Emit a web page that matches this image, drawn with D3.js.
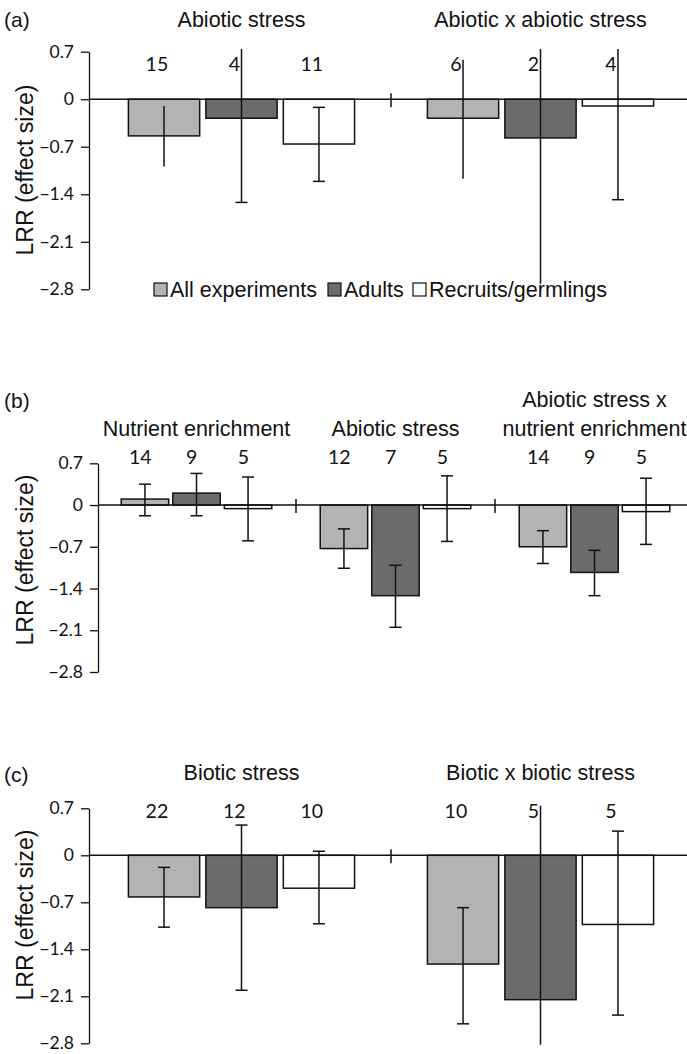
<!DOCTYPE html>
<html>
<head>
<meta charset="utf-8">
<script src="https://cdn.jsdelivr.net/npm/d3@7"></script>
<style>
  body { margin: 0; background: white; }
  svg { display: block; }
</style>
</head>
<body>
<script>
// series and ticks shared by all three panels
const series = ["All experiments", "Adults", "Recruits/germlings"]
const yTicks = [0.7, 0, -0.7, -1.4, -2.1, -2.8]

// (a)
const groupsA = ["Abiotic stress", "Abiotic x abiotic stress"]
const meanA  = [[-0.54, -0.28, -0.66], [-0.28, -0.57, -0.10]]
const lowA   = [[-0.99, -1.52, -1.21], [-1.17, -2.72, -1.48]]
const highA  = [[-0.10,  0.74, -0.12], [ 0.58,  0.74,  0.74]]
const nA     = [[15, 4, 11], [6, 2, 4]]

// (b)
const groupsB = ["Nutrient enrichment", "Abiotic stress", "Abiotic stress x|nutrient enrichment"]
const meanB  = [[0.10, 0.20, -0.06], [-0.73, -1.52, -0.06], [-0.70, -1.13, -0.11]]
const lowB   = [[-0.18, -0.18, -0.60], [-1.06, -2.05, -0.61], [-0.98, -1.52, -0.66]]
const highB  = [[0.35, 0.53, 0.47], [-0.40, -1.01, 0.49], [-0.43, -0.76, 0.45]]
const nB     = [[14, 9, 5], [12, 7, 5], [14, 9, 5]]

// (c)
const groupsC = ["Biotic stress", "Biotic x biotic stress"]
const meanC  = [[-0.62, -0.78, -0.49], [-1.62, -2.15, -1.03]]
const lowC   = [[-1.07, -2.01, -1.02], [-2.51, -2.82, -2.38]]
const highC  = [[-0.18, 0.45, 0.06], [-0.78, 0.74, 0.36]]
const nC     = [[22, 12, 10], [10, 5, 5]]

// error-bar ends drawn without a cap in the figure (panel-group-series-end)
const noCap = new Set(["a-0-0-lo", "a-0-0-hi", "a-0-1-hi", "a-1-0-lo", "a-1-0-hi",
                       "a-1-1-lo", "a-1-1-hi", "a-1-2-hi", "c-1-1-lo", "c-1-1-hi"])

const [width, height] = [687, 1054]
const colors = {
    "ink": "#111111",
    "fills": ["#b3b3b3", "#6b6b6b", "#ffffff"]
}
const fonts = {
    "title": "'Liberation Sans', Arial, sans-serif",
    "num": "Lato, 'Open Sans', sans-serif"
}

const panels = [
    { id: "a", groups: groupsA, mean: meanA, low: lowA, high: highA, n: nA,
      yRange: [289.3, 51.7], axisX: 89, xRange: [92, 690],
      titleY: 27, nY: 71, letterY: 27, labelY: 170 },
    { id: "b", groups: groupsB, mean: meanB, low: lowB, high: highB, n: nB,
      yRange: [672, 463.3], axisX: 98, xRange: [97, 694],
      titleY: 436, nY: 464, letterY: 408, labelY: 560 },
    { id: "c", groups: groupsC, mean: meanC, low: lowC, high: highC, n: nC,
      yRange: [1043.3, 808.3], axisX: 89, xRange: [92, 690],
      titleY: 780, nY: 818, letterY: 782, labelY: 915 }
]

const svg = d3.select("body").append("svg")
    .attr("width", width)
    .attr("height", height)

panels.forEach(p => {
    const g = svg.append("g").attr("id", "panel-" + p.id)
    const y = d3.scaleLinear().domain([-2.8, 0.7]).range(p.yRange)
    const x0 = d3.scaleBand().domain(p.groups).range(p.xRange)
    const x1 = d3.scaleBand().domain(series).range([0, x0.bandwidth()])
        .paddingInner(0.08).paddingOuter(0.47)

    // panel letter
    g.append("text")
        .attr("x", 4).attr("y", p.letterY)
        .attr("font-family", fonts.title).attr("font-size", 21)
        .attr("fill", colors.ink)
        .text("(" + p.id + ")")

    // y axis
    const axis = g.append("g")
        .attr("transform", `translate(${p.axisX},0)`)
        .call(d3.axisLeft(y).tickValues(yTicks).tickSize(8).tickSizeOuter(0)
            .tickPadding(7)
            .tickFormat(d => d === 0 ? "0" : d3.format(".1f")(d)))
    axis.selectAll("path, line").attr("stroke", colors.ink).attr("stroke-width", 1.3)
    axis.selectAll("text")
        .attr("font-family", fonts.num).attr("font-size", 17.5)
        .attr("fill", colors.ink)

    g.append("text")
        .attr("transform", `translate(33,${p.labelY}) rotate(-90)`)
        .attr("text-anchor", "middle")
        .attr("font-family", fonts.title).attr("font-size", 23)
        .attr("fill", colors.ink)
        .text("LRR (effect size)")

    // rows of bars: one per group x series
    const rows = []
    p.groups.forEach((grp, gi) => series.forEach((s, si) => rows.push({
        grp, s, gi, si,
        mean: p.mean[gi][si], lo: p.low[gi][si], hi: p.high[gi][si], n: p.n[gi][si]
    })))

    const bx = d => x0(d.grp) + x1(d.s)
    const bw = x1.bandwidth()

    g.append("g").selectAll("rect")
        .data(rows)
        .join("rect")
            .attr("x", bx)
            .attr("y", d => y(Math.max(0, d.mean)))
            .attr("width", bw)
            .attr("height", d => Math.abs(y(d.mean) - y(0)))
            .attr("fill", d => colors.fills[d.si])
            .attr("stroke", colors.ink)
            .attr("stroke-width", 1.5)

    // zero line across the panel
    g.append("line")
        .attr("x1", p.axisX).attr("x2", width)
        .attr("y1", y(0)).attr("y2", y(0))
        .attr("stroke", colors.ink).attr("stroke-width", 1.5)

    // small separators between groups
    g.append("g").selectAll("line")
        .data(p.groups.slice(1))
        .join("line")
            .attr("x1", d => x0(d)).attr("x2", d => x0(d))
            .attr("y1", y(0) - 6).attr("y2", y(0) + 8)
            .attr("stroke", colors.ink).attr("stroke-width", 1.5)

    // error bars
    const eb = g.append("g").attr("stroke", colors.ink).attr("stroke-width", 1.5)
    eb.selectAll("line.v")
        .data(rows)
        .join("line").attr("class", "v")
            .attr("x1", d => bx(d) + bw / 2).attr("x2", d => bx(d) + bw / 2)
            .attr("y1", d => y(d.hi)).attr("y2", d => y(d.lo))
    const caps = []
    rows.forEach(d => {
        const key = `${p.id}-${d.gi}-${d.si}`
        if (!noCap.has(key + "-lo")) caps.push({ d, v: d.lo })
        if (!noCap.has(key + "-hi")) caps.push({ d, v: d.hi })
    })
    eb.selectAll("line.cap")
        .data(caps)
        .join("line").attr("class", "cap")
            .attr("x1", c => bx(c.d) + bw / 2 - 6).attr("x2", c => bx(c.d) + bw / 2 + 6)
            .attr("y1", c => y(c.v)).attr("y2", c => y(c.v))

    // sample sizes
    g.append("g").selectAll("text")
        .data(rows)
        .join("text")
            .attr("x", d => bx(d) + bw / 2 - bw * 0.1)
            .attr("y", p.nY)
            .attr("text-anchor", "middle")
            .attr("font-family", fonts.num).attr("font-size", 19.5)
            .attr("fill", colors.ink)
            .text(d => d.n)

    // group titles (| splits lines)
    const titles = g.append("g").selectAll("text")
        .data(p.groups)
        .join("text")
            .attr("x", d => x0(d) + x0.bandwidth() / 2)
            .attr("y", p.titleY)
            .attr("text-anchor", "middle")
            .attr("font-family", fonts.title).attr("font-size", 21.5)
            .attr("fill", colors.ink)
    titles.each(function(d) {
        const lines = d.split("|")
        d3.select(this).selectAll("tspan")
            .data(lines)
            .join("tspan")
                .attr("x", x0(d) + x0.bandwidth() / 2)
                .attr("dy", (l, i) => i === 0 ? -(lines.length - 1) * 29 : 29)
                .text(l => l)
    })
})

// legend under panel (a)
const legendX = [154, 328, 413]
const legend = svg.append("g").attr("id", "legend")
    .selectAll("g")
    .data(series)
    .join("g")
        .attr("transform", (d, i) => `translate(${legendX[i]},283)`)
legend.append("rect")
    .attr("width", 13).attr("height", 13)
    .attr("fill", (d, i) => colors.fills[i])
    .attr("stroke", colors.ink).attr("stroke-width", 1.2)
legend.append("text")
    .attr("x", 16).attr("y", 14)
    .attr("font-family", fonts.title).attr("font-size", 21.5)
    .attr("fill", colors.ink)
    .text(d => d)
</script>
</body>
</html>
